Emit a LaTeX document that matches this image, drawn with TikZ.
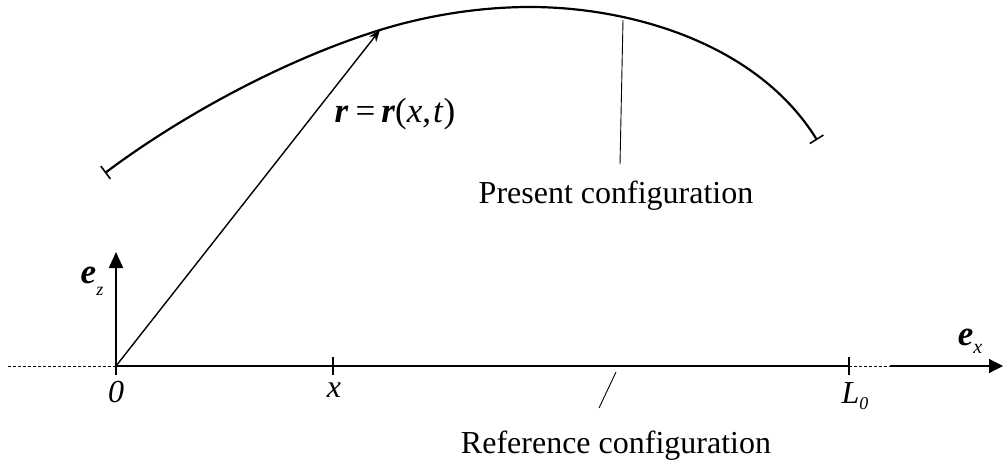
\documentclass[tikz,border=0pt]{standalone}
\usepackage{fontspec}
\setmainfont{Liberation Serif}
\usetikzlibrary{arrows.meta,calc}
\begin{document}
\begin{tikzpicture}[x=1pt,y=-1pt,
  lbl/.style={inner sep=0pt,anchor=base,font=\fontsize{32}{36}\selectfont},
  blbl/.style={inner sep=0pt,anchor=base,font=\fontsize{35}{38}\selectfont},
  thinlead/.style={line width=0.9pt},
  axisline/.style={line width=2.6pt},
  curveline/.style={line width=2.2pt},
  tick/.style={line width=1.8pt},
]
\useasboundingbox (0,0) rectangle (1003,463);
\coordinate (O) at (116,366);
\coordinate (Xt) at (333,366);
\coordinate (L) at (849,366);
\coordinate (Dl) at (8,366);
\coordinate (Dr) at (890,366);
\coordinate (Ex) at (1003,366);
\coordinate (Ez) at (116,252);
\coordinate (P) at (380,30);
\coordinate (A) at (105,173);
\coordinate (T) at (530,7);
\coordinate (B) at (817,140);
% dashed extensions
\draw[dashed,line width=0.8pt,dash pattern=on 3pt off 2pt] (Dl) -- (O);
\draw[dashed,line width=0.8pt,dash pattern=on 3pt off 2pt] (L) -- (Dr);
% e_x arrow
\draw[line width=1.2pt,-{Triangle[width=14pt,length=14pt]}] (Dr) -- (Ex);
% reference configuration axis
\draw[axisline] (O) -- (L);
\draw[tick] ($(Xt)+(0,-9)$) -- ($(Xt)+(0,9)$);
\draw[tick] ($(O)+(0,-9)$) -- ($(O)+(0,9)$);
\draw[tick] ($(L)+(0,-9)$) -- ($(L)+(0,9)$);
% e_z arrow
\draw[line width=1.8pt,-{Triangle[width=14pt,length=16pt]}] (O) -- (Ez);
% r vector
\draw[line width=1.4pt,-{Stealth[width=9pt,length=12pt]}] (O) -- (P);
% present configuration curve
\draw[curveline,{Bar[width=16pt,line width=1.6pt]}-{Bar[width=16pt,line width=1.6pt]}]
  (A) .. controls (181,116) and (284.5,59.6) .. (P)
      .. controls (427.8,15.2) and (480,7) .. (T)
      .. controls (630,7) and (757,43) .. (B);
% labels
\node[lbl] (n0) at (116,402) {\textit{0}};
\node[lbl] (nx) at (334,397) {\textit{x}};
\node[lbl] (nL) at (855,403) {\textit{L}\raisebox{-6pt}{\fontsize{18}{18}\selectfont\textit{0}}};
\node[blbl] (nez) at (92,283) {\textbf{\textit{e}}\raisebox{-12pt}{\fontsize{18}{18}\selectfont\textit{z}}};
\node[blbl] (nex) at (970,345) {\textbf{\textit{e}}\raisebox{-8pt}{\fontsize{20}{20}\selectfont\textit{x}}};
\node[blbl] (nr) at (395,122) {\textbf{\textit{r}}\hspace{7pt}=\hspace{6pt}\textbf{\textit{r}}(\textit{x},\hspace{2pt}\textit{t})};
\node[lbl] (npc) at (616,203) {Present configuration};
\node[lbl] (nrc) at (616,453) {Reference configuration};
% leader lines
\coordinate (pc1) at (623,20);
\coordinate (pc2) at (620,164);
\draw[thinlead] (pc1) -- (pc2);
\coordinate (rc1) at (616,372);
\coordinate (rc2) at (599,408);
\draw[thinlead] (rc1) -- (rc2);
\end{tikzpicture}
\end{document}
